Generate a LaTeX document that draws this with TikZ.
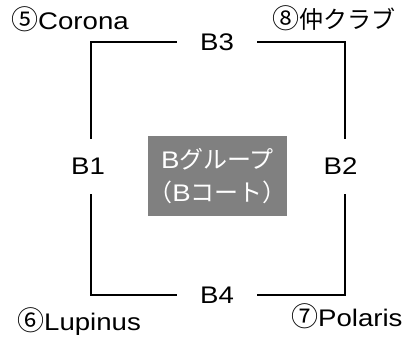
\documentclass[tikz,border=0pt]{standalone}
\usepackage{fontspec}
\setmainfont{Liberation Sans}[FakeStretch=1.15]
\newfontfamily\jp{Noto Sans CJK JP}
\newcommand{\circd}[1]{{\jp\fontsize{27}{28}\selectfont #1}}
\tikzset{
  lbl/.style={inner sep=0pt, font=\fontsize{24}{28}\selectfont},
  side/.style={inner sep=0pt, font=\fontsize{24}{28}\selectfont},
  frame/.style={line width=2pt, black},
  grp/.style={fill=black!50, text=white, inner sep=0pt,
    minimum width=135pt, minimum height=80pt, align=center,
    font=\fontsize{24}{33}\selectfont}
}
\begin{document}
\begin{tikzpicture}[x=1pt,y=1pt]
\useasboundingbox (0,0) rectangle (416,337);
% side labels (nodes sized to the gaps in the frame)
\node[side, minimum width=80pt, minimum height=20pt] (B3) at (217,295) {B3};
\node[side, minimum width=80pt, minimum height=20pt] (B4) at (217,42) {B4};
\node[side, minimum width=20pt, minimum height=55pt] (B1) at (91,170.5) {\hspace*{-6pt}B1};
\node[side, minimum width=20pt, minimum height=55pt] (B2) at (345,170.5) {\hspace*{-9pt}B2};
% frame
\draw[frame] (B3.west) -| (B1.north);
\draw[frame] (B1.south) |- (B4.west);
\draw[frame] (B4.east) -| (B2.south);
\draw[frame] (B2.north) |- (B3.east);
% centre box
\node[grp] (grp) at (217.5,161) {B{\jp グループ}\\{\jp （}B{\jp コート）}};
% team labels
\node[lbl, anchor=west] (t5) at (11,318) {\circd{⑤}Corona};
\node[lbl, anchor=west] (t8) at (272,319) {\circd{⑧}{\jp 仲クラブ}};
\node[lbl, anchor=west] (t6) at (17,15) {\circd{⑥}Lupinus};
\node[lbl, anchor=west] (t7) at (291,21) {\circd{⑦}Polaris};
\end{tikzpicture}
\end{document}
